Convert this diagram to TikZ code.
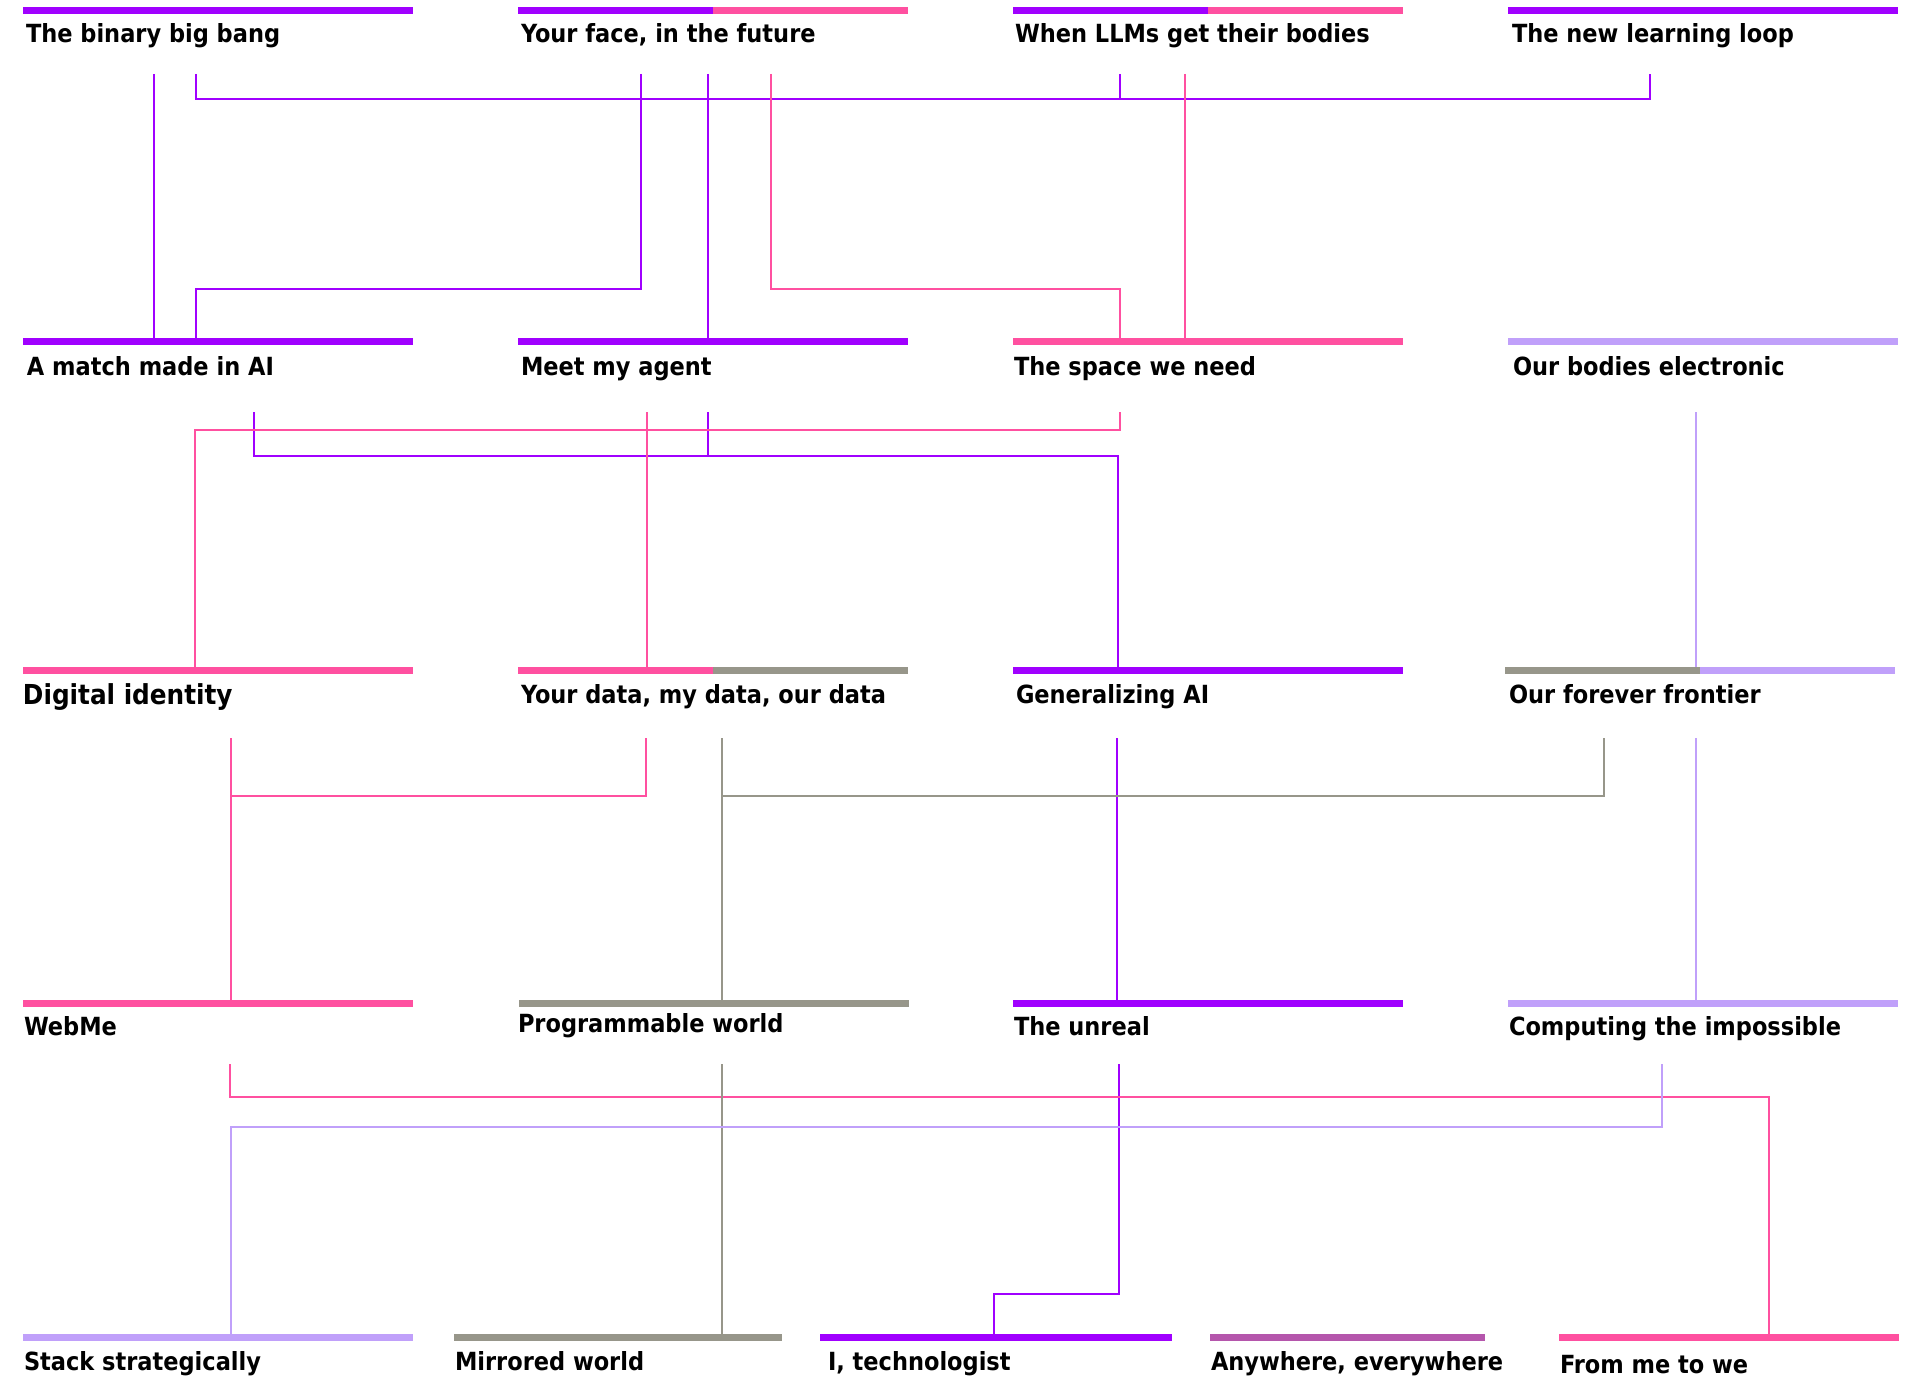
\documentclass[tikz,border=0pt]{standalone}
\usepackage{fontspec}
\newfontfamily\labfont{DejaVu Sans Condensed}
\definecolor{cviolet}{RGB}{160,0,255}
\definecolor{cpink}{RGB}{255,80,160}
\definecolor{cgray}{RGB}{151,150,138}
\definecolor{clav}{RGB}{192,160,250}
\definecolor{cmauve}{RGB}{181,86,172}
\tikzset{
  tbar/.style={draw=none, fill=#1, minimum height=7pt, inner sep=0pt, outer sep=0pt, anchor=north west},
  tbar/.default=cviolet,
  halfcol/.style={path picture={\fill[#1] (path picture bounding box.north) rectangle (path picture bounding box.south east);}},
  lab/.style={anchor=base west, inner sep=0pt, outer sep=0pt, text=black, font=\labfont\bfseries\fontsize{25}{30}\selectfont},
  link/.style={line width=1.3pt, draw=#1}
}
\begin{document}
\begin{tikzpicture}[x=1pt,y=-1pt]
\useasboundingbox[fill=white] (0,0) rectangle (1913,1383);
% connector start rows
\coordinate (s1) at (0,74);
\coordinate (s2) at (0,412);
\coordinate (s3) at (0,738);
\coordinate (s4) at (0,1064);

% bars
\node[tbar=cviolet, minimum width=390pt] (b11) at (23,7) {};
\node[tbar=cviolet, minimum width=390pt, halfcol=cpink] (b12) at (518,7) {};
\node[tbar=cviolet, minimum width=390pt, halfcol=cpink] (b13) at (1013,7) {};
\node[tbar=cviolet, minimum width=390pt] (b14) at (1508,7) {};

\node[tbar=cviolet, minimum width=390pt] (b21) at (23,338) {};
\node[tbar=cviolet, minimum width=390pt] (b22) at (518,338) {};
\node[tbar=cpink, minimum width=390pt] (b23) at (1013,338) {};
\node[tbar=clav, minimum width=390pt] (b24) at (1508,338) {};

\node[tbar=cpink, minimum width=390pt] (b31) at (23,667) {};
\node[tbar=cpink, minimum width=390pt, halfcol=cgray] (b32) at (518,667) {};
\node[tbar=cviolet, minimum width=390pt] (b33) at (1013,667) {};
\node[tbar=cgray, minimum width=390pt, halfcol=clav] (b34) at (1505,667) {};

\node[tbar=cpink, minimum width=390pt] (b41) at (23,1000) {};
\node[tbar=cgray, minimum width=390pt] (b42) at (519,1000) {};
\node[tbar=cviolet, minimum width=390pt] (b43) at (1013,1000) {};
\node[tbar=clav, minimum width=390pt] (b44) at (1508,1000) {};

\node[tbar=clav, minimum width=390pt] (b51) at (23,1334) {};
\node[tbar=cgray, minimum width=328pt] (b52) at (454,1334) {};
\node[tbar=cviolet, minimum width=352pt] (b53) at (820,1334) {};
\node[tbar=cmauve, minimum width=275pt] (b54) at (1210,1334) {};
\node[tbar=cpink, minimum width=340pt] (b55) at (1559,1334) {};

% labels
\node[lab] (l11) at (26,43) {The binary big bang};
\node[lab] (l12) at (521,43) {Your face, in the future};
\node[lab] (l13) at (1015,43) {When LLMs get their bodies};
\node[lab] (l14) at (1512,43) {The new learning loop};

\node[lab] (l21) at (27,375) {A match made in AI};
\node[lab] (l22) at (521,375) {Meet my agent};
\node[lab] (l23) at (1014,375) {The space we need};
\node[lab] (l24) at (1513,375) {Our bodies electronic};

\node[lab, font=\labfont\bfseries\fontsize{27.5}{33}\selectfont] (l31) at (23,704) {Digital identity};
\node[lab] (l32) at (521,703) {Your data, my data, our data};
\node[lab] (l33) at (1016,703) {Generalizing AI};
\node[lab] (l34) at (1509,703) {Our forever frontier};

\node[lab] (l41) at (24,1035) {WebMe};
\node[lab] (l42) at (518,1032) {Programmable world};
\node[lab] (l43) at (1014,1035) {The unreal};
\node[lab] (l44) at (1509,1035) {Computing the impossible};

\node[lab] (l51) at (24,1370) {Stack strategically};
\node[lab] (l52) at (455,1370) {Mirrored world};
\node[lab] (l53) at (828,1370) {I, technologist};
\node[lab] (l54) at (1211,1370) {Anywhere, everywhere};
\node[lab] (l55) at (1560,1373) {From me to we};

% violet connectors
\draw[link=cviolet] (154,0 |- s1) -- (154,0 |- b21.north);
\draw[link=cviolet] (196,0 |- s1) -- (196,99) -- (1650,99) -- (1650,0 |- s1);
\draw[link=cviolet] (1120,0 |- s1) -- (1120,99);
\draw[link=cviolet] (641,0 |- s1) -- (641,289) -- (196,289) -- (196,0 |- b21.north);
\draw[link=cviolet] (708,0 |- s1) -- (708,0 |- b22.north);
\draw[link=cviolet] (254,0 |- s2) -- (254,456) -- (1118,456) -- (1118,0 |- b33.north);
\draw[link=cviolet] (708,0 |- s2) -- (708,456);
\draw[link=cviolet] (1117,0 |- s3) -- (1117,0 |- b43.north);
\draw[link=cviolet] (1119,0 |- s4) -- (1119,1294) -- (994,1294) -- (994,0 |- b53.north);

% pink connectors
\draw[link=cpink] (771,0 |- s1) -- (771,289) -- (1120,289) -- (1120,0 |- b23.north);
\draw[link=cpink] (1185,0 |- s1) -- (1185,0 |- b23.north);
\draw[link=cpink] (1120,0 |- s2) -- (1120,430) -- (195,430) -- (195,0 |- b31.north);
\draw[link=cpink] (647,0 |- s2) -- (647,0 |- b32.north);
\draw[link=cpink] (231,0 |- s3) -- (231,0 |- b41.north);
\draw[link=cpink] (646,0 |- s3) -- (646,796) -- (231,796);
\draw[link=cpink] (230,0 |- s4) -- (230,1097) -- (1769,1097) -- (1769,0 |- b55.north);

% gray connectors
\draw[link=cgray] (722,0 |- s3) -- (722,0 |- b42.north);
\draw[link=cgray] (1604,0 |- s3) -- (1604,796) -- (722,796);
\draw[link=cgray] (722,0 |- s4) -- (722,0 |- b52.north);

% lavender connectors
\draw[link=clav] (1696,0 |- s2) -- (1696,0 |- b34.north);
\draw[link=clav] (1696,0 |- s3) -- (1696,0 |- b44.north);
\draw[link=clav] (1662,0 |- s4) -- (1662,1127) -- (231,1127) -- (231,0 |- b51.north);
\end{tikzpicture}
\end{document}
